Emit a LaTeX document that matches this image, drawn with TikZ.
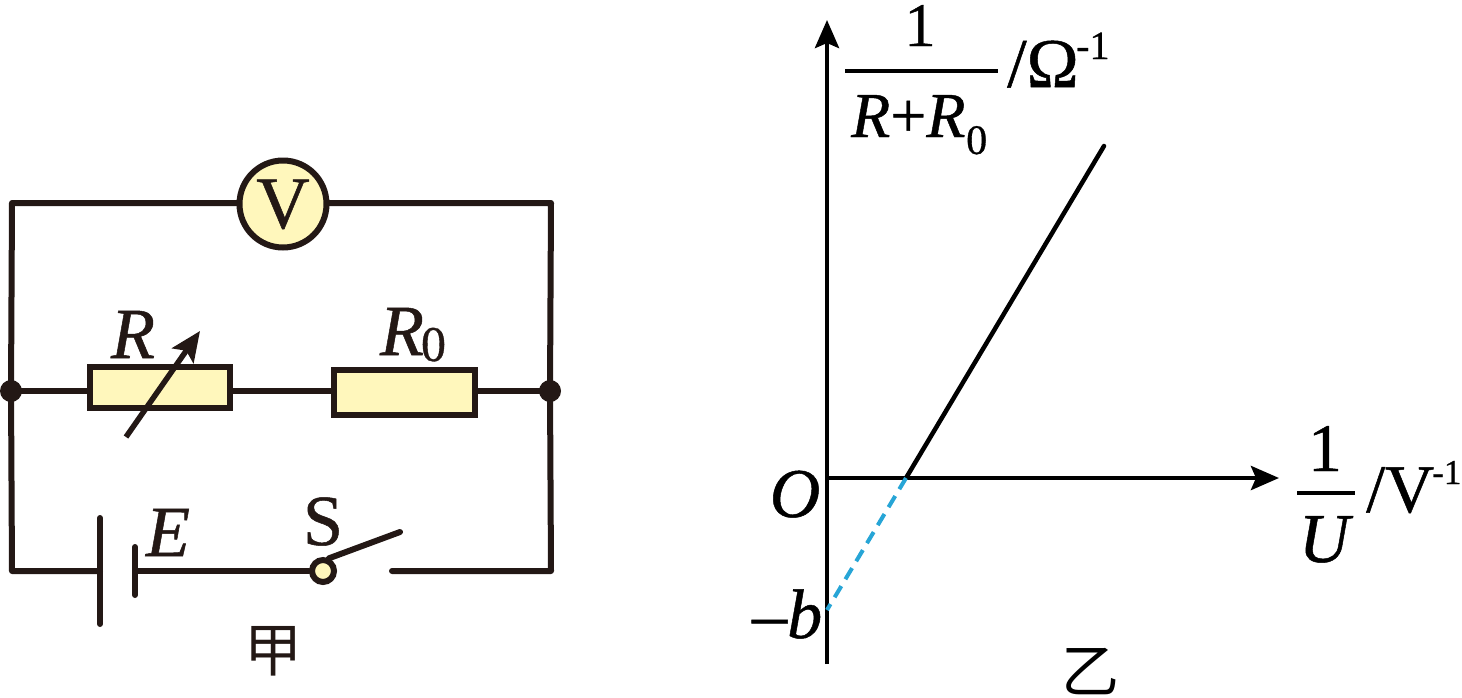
\documentclass[tikz,border=0pt]{standalone}
\usepackage{fontspec}
\setmainfont[FakeBold=0.7]{Liberation Serif}
\newfontfamily\cjk{Noto Sans CJK SC}
\usetikzlibrary{arrows.meta}
\definecolor{ink}{HTML}{231815}
\definecolor{pale}{HTML}{FFF7BC}
\definecolor{dashblue}{HTML}{27A5D6}
\newcommand{\fs}[1]{\fontsize{#1}{#1}\selectfont}
\tikzset{
  wire/.style={draw=ink,line width=6pt,line cap=round,line join=round},
  box/.style={draw=ink,fill=pale,line width=6pt,inner sep=0pt,rectangle},
  junction/.style={circle,fill=ink,inner sep=0pt,minimum size=22pt},
  lab/.style={inner sep=0pt,text=ink,font=\fs{72}},
  blab/.style={inner sep=0pt,text=black,font=\fs{68}},
  axisline/.style={draw=black,line width=4.5pt},
  tickarrow/.style={-{Stealth[length=28pt,width=24pt,inset=5pt]}},
  bar/.style={draw=black,line width=3.5pt}
}
\begin{document}
\begin{tikzpicture}[x=1pt,y=-1pt]
\useasboundingbox (0,0) rectangle (1462,697);
% circuit nodes
\coordinate (tl) at (12,203);
\coordinate (tr) at (551,203);
\coordinate (bl) at (12,571);
\coordinate (br) at (551,571);
\node[junction] (jl) at (11,391) {};
\node[junction] (jr) at (550,391) {};
\coordinate (battL) at (100,571);
\coordinate (battS) at (135,571);
\coordinate (l1) at (100,518); \coordinate (l2) at (100,624);
\coordinate (s1) at (135,547); \coordinate (s2) at (135,595);
\coordinate (cont) at (392,571);
\coordinate (lever) at (400,532);
\coordinate (ra) at (126,437); \coordinate (rb) at (200,331);
\draw[wire] (jl.center) -- (tl) -- (tr) -- (jr.center) -- (br) -- (cont);
\draw[wire] (jl.center) -- (bl) -- (battL);
\draw[wire] (jl.center) -- (jr.center);
\draw[wire] (l1) -- (l2);
\draw[wire] (s1) -- (s2);
\node[box,minimum width=140pt,minimum height=41pt] (rv) at (159.5,387) {};
\node[box,minimum width=141pt,minimum height=45pt] (rz) at (404.5,392.5) {};
\node[circle,draw=ink,fill=pale,line width=6pt,minimum size=87pt,inner sep=0pt] (vm) at (283,204) {};
\node[lab,anchor=base,font=\fs{74}] (lv) at (283,228) {V};
\node[circle,draw=ink,fill=pale,line width=6pt,minimum size=22pt,inner sep=0pt] (sw) at (323,571) {};
\draw[wire] (battS) -- (sw);
\draw[wire] (sw.65) -- (lever);
\draw[draw=ink,line width=5.5pt,-{Stealth[length=30pt,width=26pt,inset=6pt]}] (ra) -- (rb);
\node[lab,anchor=base] (lr) at (133,358) {\textit{R}};
\node[lab,anchor=base] (lrz) at (402,355) {\textit{R}};
\node[lab,anchor=base,font=\fs{50}] (lrzs) at (433.5,361) {0};
\node[lab,anchor=base] (le) at (168,556) {\textit{E}};
\node[lab,anchor=base] (ls) at (323,545) {S};
\node[lab,anchor=center,font=\fs{58}\cjk] (jia) at (273,651) {甲};
% graph
\coordinate (ybot) at (827,664);
\coordinate (ytop) at (827,20);
\coordinate (o) at (827,478);
\coordinate (xend) at (1279,478);
\coordinate (cross) at (906,478);
\coordinate (lineend) at (1104,146);
\coordinate (minb) at (827,610);
\draw[axisline,tickarrow] (ybot) -- (ytop);
\draw[axisline,tickarrow] (o) -- (xend);
\draw[axisline,line cap=round] (cross) -- (lineend);
\draw[draw=dashblue,line width=4pt,dash pattern=on 13pt off 8pt] (cross) -- (minb);
\coordinate (f1a) at (845,71); \coordinate (f1b) at (998,71);
\coordinate (f2a) at (1297,493); \coordinate (f2b) at (1355,493);
\draw[bar] (f1a) -- (f1b);
\draw[bar] (f2a) -- (f2b);
\node[blab,anchor=base,font=\fs{62}] (one1) at (920,46) {1};
\node[blab,anchor=base west,font=\fs{64}] (rsum) at (851,137) {\textit{R}+\textit{R}};
\node[blab,anchor=base west,font=\fs{42}] (rsumz) at (966,154) {0};
\node[blab,anchor=base west,font=\fs{70}] (unit1) at (1007,87) {/Ω};
\node[blab,anchor=base west,font=\fs{40}] (unit1e) at (1076,59) {-1};
\node[blab,anchor=base,font=\fs{70}] (lo) at (795,517) {\textit{O}};
\node[blab,anchor=base west,font=\fs{70}] (lb) at (752,638) {\textit{–b}};
\node[blab,anchor=base] (one2) at (1325,471) {1};
\node[blab,anchor=base,font=\fs{70}] (lu) at (1326,562) {\textit{U}};
\node[blab,anchor=base west,font=\fs{68}] (unit2) at (1366,512) {/V};
\node[blab,anchor=base west,font=\fs{35}] (unit2e) at (1432,484) {-1};
\node[blab,anchor=center,font=\fs{58}\cjk] (yi) at (1090,672) {乙};
\end{tikzpicture}
\end{document}
